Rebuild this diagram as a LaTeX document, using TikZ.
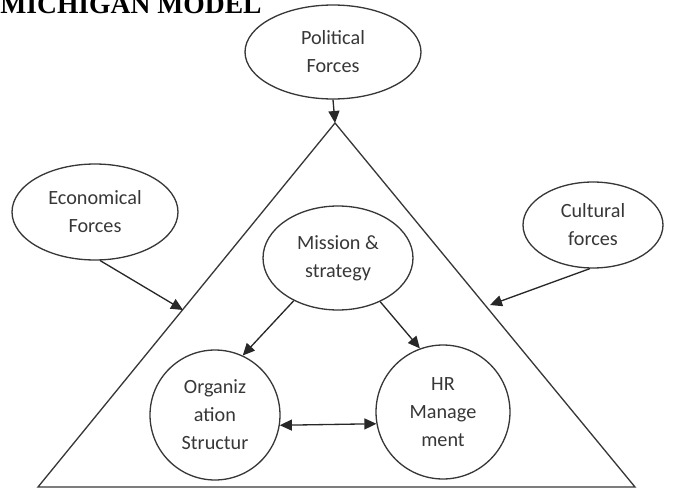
\documentclass[tikz,border=0pt]{standalone}
\usepackage{fontspec}
\setmainfont{Carlito}
\newfontfamily\titlefont{Liberation Serif}
\usepackage{tikz}
\usetikzlibrary{arrows.meta,shapes.geometric}
\definecolor{ink}{RGB}{55,55,55}

\begin{document}
\begin{tikzpicture}[x=0.02cm,y=-0.02cm,
  every node/.style={font=\fontsize{11.5}{16}\selectfont, text=ink, align=center},
  force/.style={draw=ink, line width=0.75pt, ellipse, inner sep=0pt},
  part/.style={draw=ink, line width=0.75pt, circle, inner sep=0pt, minimum size=2.6cm},
  link/.style={draw=ink!70!black, line width=0.75pt, -{Triangle[length=2.4mm,width=2.2mm]}}]
  \useasboundingbox (0,0) rectangle (680,497);
  \node[anchor=base west, inner sep=0pt, font=\titlefont\bfseries\fontsize{15.7}{18}\selectfont, text=black] (title) at (0,13) {MICHIGAN MODEL};
  % the triangle
  \coordinate (apex) at (335,123);
  \coordinate (bl) at (38,487);
  \coordinate (br) at (635,487);
  \draw[ink, line width=0.75pt] (apex) -- (bl) -- (br) -- cycle;
  % outside forces
  \node[force, minimum width=3.52cm, minimum height=1.88cm] (pol) at (333,52) {Political\\Forces};
  \node[force, minimum width=3.32cm, minimum height=1.92cm] (eco) at (95,212) {Economical\\Forces};
  \node[force, minimum width=2.8cm, minimum height=1.72cm] (cul) at (593,225) {Cultural\\forces};
  \coordinate (ecoin) at (183,310);
  \coordinate (culin) at (490,305);
  \draw[link] (pol.south) -- (apex);
  \draw[link] (eco.-84) -- (ecoin);
  \draw[link] (cul.266) -- (culin);
  % inside
  \node[force, minimum width=3cm, minimum height=2.08cm] (mis) at (338,258) {Mission \&\\strategy};
  \node[part] (org) at (215,415) {Organiz\\ation\\Structur};
  \node[part, minimum size=2.68cm] (hrm) at (443,412) {HR\\Manage\\ment};
  \draw[link] (mis.224) -- (org.65);
  \draw[link] (mis.314) -- (hrm.110);
  \draw[link, {Triangle[length=2.4mm,width=2.2mm]}-{Triangle[length=2.4mm,width=2.2mm]}] (org.-9) -- (hrm.190);
\end{tikzpicture}
\end{document}
